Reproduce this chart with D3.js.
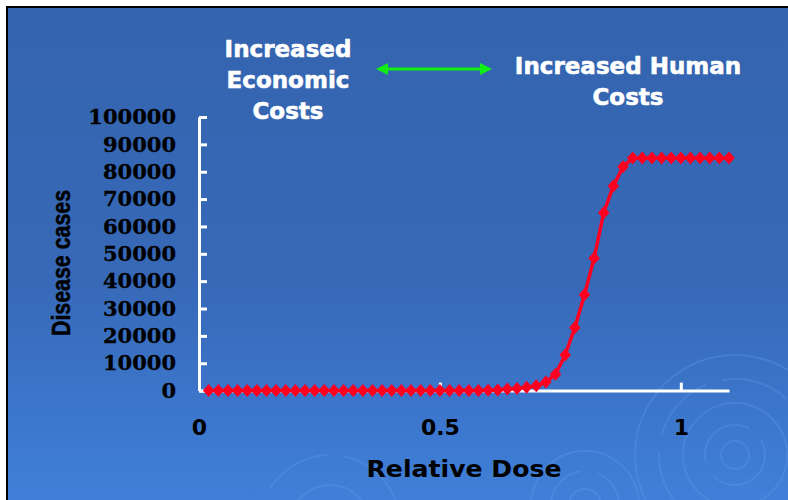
<!DOCTYPE html>
<html>
<head>
<meta charset="utf-8">
<script src="https://cdn.jsdelivr.net/npm/d3@7"></script>
<style>
  html, body { margin: 0; padding: 0; background: #ffffff; }
  svg { display: block; }
</style>
</head>
<body>
<svg id="chart" width="788" height="500"></svg>
<script>
// ---- data ----
const doseValues = [
  0.02,0.04,0.06,0.08,0.10,0.12,0.14,0.16,0.18,0.20,
  0.22,0.24,0.26,0.28,0.30,0.32,0.34,0.36,0.38,0.40,
  0.42,0.44,0.46,0.48,0.50,0.52,0.54,0.56,0.58,0.60,
  0.62,0.64,0.66,0.68,0.70,0.72,0.74,0.76,0.78,0.80,
  0.82,0.84,0.86,0.88,0.90,0.92,0.94,0.96,0.98,1.00,
  1.02,1.04,1.06,1.08,1.10
];
const diseaseCases = [
  0,0,0,0,0,0,0,0,0,0,
  0,0,0,0,0,0,0,0,0,0,
  0,0,0,0,0,0,0,0,0,100,
  200,600,800,1200,1800,3100,6000,13000,23000,35000,
  48400,65000,74800,81800,85000,85000,85000,85000,85000,85000,
  85000,85000,85000,85000,85000
];
const yTicks = [0,10000,20000,30000,40000,50000,60000,70000,80000,90000,100000];
const xTicks = [0, 0.5, 1];
const xTickLabels = ["0", "0.5", "1"];
const xTitle = "Relative Dose";
const yTitle = "Disease cases";
const leftNote = ["Increased", "Economic", "Costs"];
const rightNote = ["Increased Human", "Costs"];

// ---- drawing ----
const svg = d3.select("#chart");
const W = 788, H = 500;

const defs = svg.append("defs");
const grad = defs.append("linearGradient").attr("id", "bg")
  .attr("x1", 0).attr("y1", 0).attr("x2", 0).attr("y2", 1);
grad.append("stop").attr("offset", "0%").attr("stop-color", "#3464ae");
grad.append("stop").attr("offset", "55%").attr("stop-color", "#3769b8");
grad.append("stop").attr("offset", "100%").attr("stop-color", "#4080da");

svg.append("rect").attr("x", 0).attr("y", 0).attr("width", W).attr("height", H).attr("fill", "#ffffff");
svg.append("rect").attr("x", 6).attr("y", 6).attr("width", W).attr("height", H).attr("fill", "#000000");
svg.append("rect").attr("x", 8).attr("y", 8).attr("width", W).attr("height", H).attr("fill", "url(#bg)");

// faint decorative ripples
const ripples = svg.append("g").attr("fill", "none").attr("stroke", "#5f98e8").attr("stroke-opacity", 0.35);
[[735, 455, [14, 30, 52, 76, 100]], [585, 505, [16, 34, 54]], [330, 525, [40, 70]]].forEach(([cx, cy, rs]) => {
  rs.forEach((r, i) => {
    ripples.append("circle").attr("cx", cx).attr("cy", cy).attr("r", r)
      .attr("stroke-width", 2)
      .attr("stroke-dasharray", i % 2 ? "70 16" : null);
  });
});

const x = d3.scaleLinear().domain([0, 1.1]).range([199, 729]);
const y = d3.scaleLinear().domain([0, 100000]).range([390.6, 117]);

// y axis
const yAxis = svg.append("g").attr("transform", `translate(${x(0)},0)`)
  .call(d3.axisLeft(y).tickValues(yTicks).tickSizeInner(-8).tickSizeOuter(0).tickPadding(23).tickFormat(d3.format("d")));
yAxis.select(".domain").attr("stroke", "#ffffff").attr("stroke-width", 3);
yAxis.selectAll(".tick line").attr("stroke", "#ffffff").attr("stroke-width", 3);
yAxis.selectAll(".tick text")
  .attr("fill", "#000000")
  .attr("font-family", "'DejaVu Serif', serif")
  .attr("font-weight", "bold")
  .attr("font-size", 21)
  .attr("stroke", "#000000").attr("stroke-width", 0.3);

// x axis
const xAxis = svg.append("g").attr("transform", `translate(0,${y(0)})`)
  .call(d3.axisBottom(x).tickValues(xTicks).tickSizeInner(-8).tickSizeOuter(0).tickPadding(29)
    .tickFormat((d, i) => xTickLabels[i]));
xAxis.select(".domain").attr("stroke", "#ffffff").attr("stroke-width", 3);
xAxis.selectAll(".tick line").attr("stroke", "#ffffff").attr("stroke-width", 3);
xAxis.selectAll(".tick text")
  .attr("fill", "#000000")
  .attr("font-family", "'DejaVu Sans', sans-serif")
  .attr("font-weight", "bold")
  .attr("font-size", 22);
svg.selectAll(".domain, .tick line").attr("stroke-linecap", "butt");

// axis titles
svg.append("text").text(xTitle)
  .attr("x", 464).attr("y", 477)
  .attr("text-anchor", "middle")
  .attr("font-family", "'DejaVu Sans', sans-serif")
  .attr("font-weight", "bold").attr("font-size", 23)
  .attr("textLength", 195).attr("lengthAdjust", "spacingAndGlyphs")
  .attr("fill", "#000000");

svg.append("text").text(yTitle)
  .attr("transform", "translate(70,263) rotate(-90)")
  .attr("text-anchor", "middle")
  .attr("font-family", "'Liberation Sans', Arial, sans-serif")
  .attr("font-weight", "bold").attr("font-size", 25)
  .attr("textLength", 146).attr("lengthAdjust", "spacingAndGlyphs")
  .attr("stroke", "#000000").attr("stroke-width", 0.5)
  .attr("fill", "#000000");

// data series
const pts = doseValues.map((d, i) => [d, diseaseCases[i]]);
svg.append("path").datum(pts)
  .attr("fill", "none").attr("stroke", "#ff0020").attr("stroke-width", 3.5)
  .attr("stroke-linejoin", "round")
  .attr("d", d3.line().x(d => x(d[0])).y(d => y(d[1])));
const sym = d3.symbol().type(d3.symbolSquare).size(50);
svg.append("g").selectAll("path").data(pts).join("path")
  .attr("transform", d => `translate(${x(d[0])},${y(d[1])}) scale(1.15,1.3) rotate(45)`)
  .attr("d", sym).attr("fill", "#ff0020");

// annotations
function note(lines, cx, y0, dy) {
  const t = svg.append("text")
    .attr("text-anchor", "middle")
    .attr("font-family", "'DejaVu Sans', Verdana, sans-serif")
    .attr("font-weight", "bold").attr("font-size", 23)
    .attr("fill", "#ffffff").attr("stroke", "#ffffff").attr("stroke-width", 0.6);
  lines.forEach((l, i) => t.append("tspan").attr("x", cx).attr("y", y0 + i * dy).text(l));
}
note(leftNote, 288, 57, 31);
note(rightNote, 628, 74, 31);

// double-headed green arrow
const ag = svg.append("g").attr("fill", "#11ee11").attr("stroke", "none");
ag.append("rect").attr("x", 385).attr("y", 67.5).attr("width", 98).attr("height", 3);
ag.append("path").attr("d", d3.line()([[376, 69], [388, 63], [388, 75]]));
ag.append("path").attr("d", d3.line()([[492, 69], [480, 63], [480, 75]]));
</script>
</body>
</html>
